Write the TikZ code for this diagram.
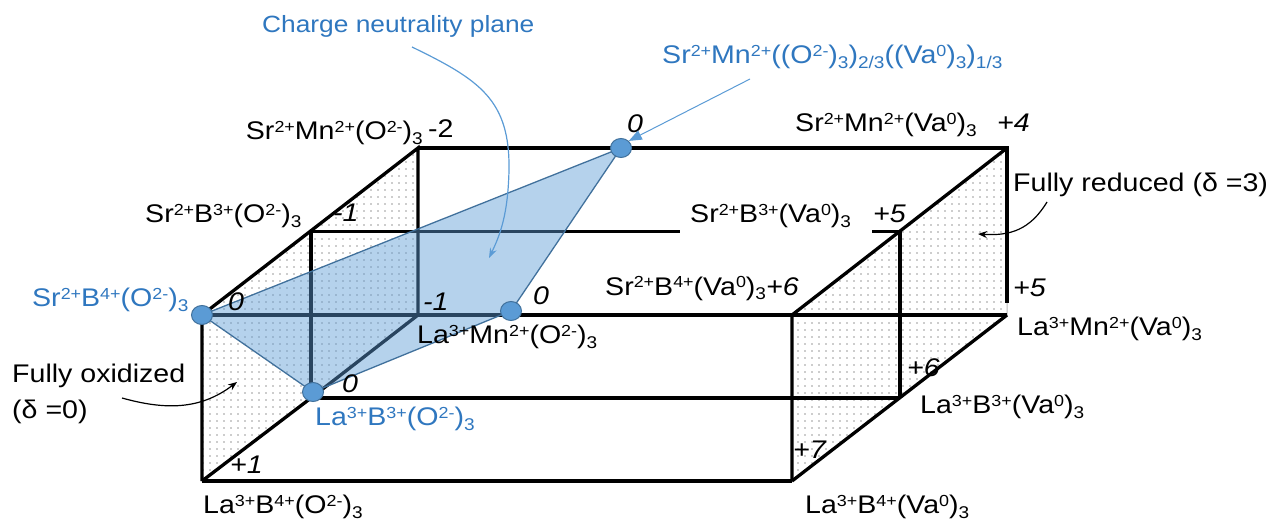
\documentclass[tikz,border=0pt]{standalone}
\usepackage{fontspec}
\setmainfont{Liberation Sans}[FakeStretch=1.12]
\usetikzlibrary{patterns.meta,arrows.meta,shapes.geometric}
\definecolor{tblue}{HTML}{2F77BF}
\definecolor{pfill}{HTML}{5B9BD5}
\definecolor{pedge}{HTML}{41719C}
\newcommand\supx[1]{\raisebox{7pt}{\fontsize{16}{16}\selectfont #1}}
\newcommand\subx[1]{\raisebox{-5pt}{\fontsize{17}{17}\selectfont #1}}
\begin{document}
\begin{tikzpicture}[x=1pt,y=-1pt,
  lbl/.style={anchor=base west, inner sep=0pt, font=\fontsize{25.5}{28}\selectfont},
  num/.style={anchor=base west, inner sep=0pt, font=\fontsize{25.5}{28}\selectfont\itshape},
  edge/.style={line width=3.3pt, line join=miter},
  face/.style={pattern={Dots[distance=7pt,radius=0.7pt]}, pattern color=black!85},
  faceline/.style={draw=gray!55, line width=1pt},
  plane/.style={fill=pfill, fill opacity=0.45, draw=pedge, draw opacity=1, line width=1.3pt, line join=round},
  dot/.style={ellipse, minimum width=21pt, minimum height=19pt, inner sep=0pt, fill=pfill, draw=pedge, line width=1pt},
  bluearrow/.style={pfill, line width=1.2pt},
  blackarrow/.style={black, line width=1.2pt, -{Stealth[length=9pt,width=7pt]}}
]
\useasboundingbox (0,0) rectangle (1273,526);
% corners
\coordinate (A) at (202,315);
\coordinate (B) at (311,231.5);
\coordinate (C) at (418,148);
\coordinate (D) at (418,315);
\coordinate (E) at (311,398);
\coordinate (F) at (202,481);
\coordinate (A2) at (792,315);
\coordinate (B2) at (900,231.5);
\coordinate (C2) at (1007,148);
\coordinate (D2) at (1007,315);
\coordinate (E2) at (900,398);
\coordinate (F2) at (792,481);
\coordinate (Cv) at (1007,303);
\coordinate (Bg1) at (680,231.5);
\coordinate (Bg2) at (872,231.5);
% faces
\fill[face] (A)--(C)--(D)--(F)--cycle;
\fill[face] (A2)--(C2)--(D2)--(F2)--cycle;
\draw[faceline] (A)--(C)--(D)--(F)--cycle;
\draw[faceline] (A2)--(C2)--(D2)--(F2)--cycle;
% edges
\draw[edge] (F)--(A)--(C)--(D);
\draw[edge] (F)--(E)--(D);
\draw[edge] (B)--(E);
\draw[edge] (C)--(C2)--(Cv);
\draw[edge] (A)--(D2);
\draw[edge] (B)--(Bg1);
\draw[edge] (Bg2)--(B2);
\draw[edge] (E)--(E2);
\draw[edge] (F)--(F2);
\draw[edge] (F2)--(A2)--(C2);
\draw[edge] (F2)--(D2);
\draw[edge] (B2)--(E2);
% charge neutrality plane
\coordinate (M) at (621,148);
\coordinate (P) at (511,311);
\coordinate (Q) at (313,392);
\draw[plane] (A)--(M)--(P)--(Q)--cycle;
\node[dot] (dA) at (A) {};
\node[dot] (dM) at (M) {};
\node[dot] (dP) at (P) {};
\node[dot] (dQ) at (Q) {};
% labels
\node[lbl, text=tblue, font=\fontsize{23.5}{26}\selectfont] (tcharge) at (262,33) {Charge neutrality plane};
\node[lbl, text=tblue] (tmix) at (662,64) {Sr\supx{2+}Mn\supx{2+}((O\supx{2-})\subx{3})\subx{2/3}((Va\supx{0})\subx{3})\subx{1/3}};
\node[lbl, anchor=base east] (tsmo) at (423,140) {Sr\supx{2+}Mn\supx{2+}(O\supx{2-})\subx{3}};
\node[lbl] (nm2) at (428,138) {-2};
\node[num] (nzM) at (627,133) {0};
\node[lbl] (tsmv) at (795,132) {Sr\supx{2+}Mn\supx{2+}(Va\supx{0})\subx{3}};
\node[num] (np4) at (997,132) {+4};
\node[lbl] (tsbo3) at (145,223) {Sr\supx{2+}B\supx{3+}(O\supx{2-})\subx{3}};
\node[num] (nm1a) at (333,222) {-1};
\node[lbl] (tsbv3) at (690,223) {Sr\supx{2+}B\supx{3+}(Va\supx{0})\subx{3}};
\node[num] (np5a) at (873,223) {+5};
\node[lbl] (tfr) at (1013,192) {Fully reduced (δ =3)};
\node[lbl, text=tblue] (tsbo4) at (32,307) {Sr\supx{2+}B\supx{4+}(O\supx{2-})\subx{3}};
\node[num] (nz1) at (228,310) {0};
\node[num] (nm1b) at (423,310) {-1};
\node[num] (nz2) at (533,305) {0};
\node[lbl] (tsbv4) at (605,295) {Sr\supx{2+}B\supx{4+}(Va\supx{0})\subx{3}\textit{+6}};
\node[num] (np5b) at (1013,297) {+5};
\node[lbl] (tlmo) at (417,343) {La\supx{3+}Mn\supx{2+}(O\supx{2-})\subx{3}};
\node[lbl] (tlmv) at (1017,335) {La\supx{3+}Mn\supx{2+}(Va\supx{0})\subx{3}};
\node[lbl] (tfo1) at (12,382) {Fully oxidized};
\node[lbl] (tfo2) at (12,418) {(δ =0)};
\node[num] (nz3) at (342,392) {0};
\node[lbl, text=tblue] (tlbo3) at (315,425) {La\supx{3+}B\supx{3+}(O\supx{2-})\subx{3}};
\node[num] (np6) at (907,376) {+6};
\node[lbl] (tlbv3) at (920,413) {La\supx{3+}B\supx{3+}(Va\supx{0})\subx{3}};
\node[num] (np1) at (230,473) {+1};
\node[num] (np7) at (793,458) {+7};
\node[lbl] (tlbo4) at (203,513) {La\supx{3+}B\supx{4+}(O\supx{2-})\subx{3}};
\node[lbl] (tlbv4) at (805,513) {La\supx{3+}B\supx{4+}(Va\supx{0})\subx{3}};
% arrows
\coordinate (ca0) at (412,47);
\coordinate (ca1) at (489,258);
\draw[bluearrow, -{Stealth[length=10pt,width=7pt]}] (ca0) .. controls (480,80) and (510,100) .. (509,170) .. controls (508,215) and (500,235) .. (ca1);
\coordinate (ma0) at (750,79);
\draw[bluearrow, line width=1pt, -{Triangle[length=13pt,width=10pt]}] (ma0) -- (dM.north east);
\coordinate (fr0) at (1047,202);
\coordinate (fr1) at (978,234);
\draw[blackarrow] (fr0) .. controls (1030,230) and (1010,236) .. (fr1);
\coordinate (fo0) at (122,398);
\coordinate (fo1) at (237,382);
\draw[blackarrow] (fo0) .. controls (165,410) and (200,410) .. (fo1);
\end{tikzpicture}
\end{document}
